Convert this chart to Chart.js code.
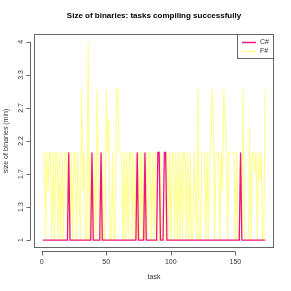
<!DOCTYPE html>
<html>
<head>
<meta charset="utf-8">
<script src="https://cdn.jsdelivr.net/npm/chart.js@4/dist/chart.umd.min.js"></script>
<style>
  html, body { margin: 0; padding: 0; background: #fff; }
</style>
</head>
<body>
<canvas id="binChart" width="291" height="291"></canvas>
<script>
// size of binaries per task, relative to the smallest one
const csharpSize = [
  1, 1, 1, 1, 1, 1, 1, 1, 1, 1,
  1, 1, 1, 1, 1, 1, 1, 1, 1, 1,
  2.08, 1, 1, 1, 1, 1, 1, 1, 1, 1,
  1, 1, 1, 1, 1, 1, 1, 1, 2.08, 1,
  1, 1, 1, 1, 1, 2.08, 1, 1, 1, 1,
  1, 1, 1, 1, 1, 1, 1, 1, 1, 1,
  1, 1, 1, 1, 1, 1, 1, 1, 1, 1,
  1, 1, 1, 2.08, 1, 1, 1, 1, 1, 2.08,
  1, 1, 1, 1, 1, 1, 1, 1, 1, 2.08,
  2.08, 1, 1, 1, 2.08, 2.08, 1, 1, 1, 1,
  1, 1, 1, 1, 1, 1, 1, 1, 1, 1,
  1, 1, 1, 1, 1, 1, 1, 1, 1, 1,
  1, 1, 1, 1, 1, 1, 1, 1, 1, 1,
  1, 1, 1, 1, 1, 1, 1, 1, 1, 1,
  1, 1, 1, 1, 1, 1, 1, 1, 1, 1,
  1, 1, 1, 2.08, 1, 1, 1, 1, 1, 1,
  1, 1, 1, 1, 1, 1, 1, 1, 1, 1,
  1, 1, 1
];
const fsharpSize = [
  2.08, 2.08, 1, 2.08, 1.56, 2.08, 2.08, 1, 2.08, 1,
  2.08, 2.08, 1, 2.08, 1, 2.08, 1, 2.08, 2.08, 1,
  2.08, 1, 2.08, 1, 2.08, 2.08, 1, 2.08, 1.56, 1,
  3.1, 1.56, 2.08, 1, 1, 4, 1, 2.08, 1, 1,
  2.08, 1, 3.1, 1.6, 1, 1, 2.08, 1, 1, 3.1,
  2.08, 2.6, 1, 1, 2.08, 1, 1, 3.1, 3.1, 2.08,
  2.08, 2.08, 1, 2.08, 1, 2.08, 1, 2.08, 2.08, 1,
  2.08, 1, 2.08, 1, 2.08, 1, 2.08, 1, 2.08, 1,
  2.08, 1, 2.08, 2.08, 1, 2.08, 1, 2.08, 1, 1,
  1, 2.08, 1, 1, 1, 1, 2.08, 1, 2.08, 1,
  2.08, 2.08, 1, 2.08, 1, 2.08, 1, 2.08, 1, 2.08,
  2.08, 1, 2.08, 1, 2.08, 1, 1, 2.08, 1.5, 1,
  3.1, 1, 1, 2.08, 2.08, 2.08, 1, 2.08, 1, 2.08,
  2.08, 3.1, 2.6, 1, 2.08, 2.08, 2.08, 1, 2.08, 1.56,
  3.1, 2.6, 2.08, 1, 2.08, 2.08, 2.08, 2.08, 2.08, 1,
  2.08, 1, 1, 2.08, 1, 3.1, 1, 1, 1, 1,
  2.45, 1, 2.08, 2.08, 1.8, 2.08, 1, 2.08, 1.7, 2.08,
  1, 1, 3.1
];
const yTickLabels = ['1', '1.3', '1.7', '2.2', '2.7', '3.3', '4'];
const xTickValues = [0, 50, 100, 150];
const seriesNames = ['C#', 'F#'];
const seriesColors = ['#f0147f', '#ffff99'];

// y axis is drawn on a square-root scale
const toPoints = arr => arr.map((v, i) => ({ x: i + 1, y: Math.sqrt(v) }));
const nTasks = fsharpSize.length;
const xPad = 0.04 * (nTasks - 1);

const FONT = '"Liberation Sans", Arial, sans-serif';
const GREY = '#666';

const rAxes = {
  id: 'rAxes',
  afterDraw(chart) {
    const ctx = chart.ctx;
    const a = chart.chartArea;
    const xs = chart.scales.x, ys = chart.scales.y;
    ctx.save();
    ctx.strokeStyle = GREY;
    ctx.lineWidth = 1;
    ctx.strokeRect(a.left + 0.5, a.top + 0.5, a.right - a.left - 1, a.bottom - a.top - 1);

    // x axis
    const xAxisY = a.bottom + 3.5;
    ctx.beginPath();
    ctx.moveTo(xs.getPixelForValue(xTickValues[0]), xAxisY);
    ctx.lineTo(xs.getPixelForValue(xTickValues[xTickValues.length - 1]), xAxisY);
    xTickValues.forEach(v => {
      const px = Math.round(xs.getPixelForValue(v)) + 0.5;
      ctx.moveTo(px, xAxisY);
      ctx.lineTo(px, xAxisY + 4);
    });
    ctx.stroke();
    ctx.fillStyle = '#333';
    ctx.font = '7px ' + FONT;
    ctx.textAlign = 'center';
    ctx.textBaseline = 'middle';
    xTickValues.forEach(v => ctx.fillText(String(v), xs.getPixelForValue(v), a.bottom + 14));
    ctx.fillText('task', (a.left + a.right) / 2, a.bottom + 29);

    // y axis
    const yAxisX = a.left - 3.5;
    const yVals = yTickLabels.map((_, k) => 1 + k / (yTickLabels.length - 1));
    ctx.beginPath();
    ctx.moveTo(yAxisX, ys.getPixelForValue(yVals[0]));
    ctx.lineTo(yAxisX, ys.getPixelForValue(yVals[yVals.length - 1]));
    yVals.forEach(v => {
      const py = Math.round(ys.getPixelForValue(v)) + 0.5;
      ctx.moveTo(yAxisX, py);
      ctx.lineTo(yAxisX - 4, py);
    });
    ctx.stroke();
    yVals.forEach((v, k) => {
      ctx.save();
      ctx.translate(a.left - 12.5, ys.getPixelForValue(v));
      ctx.rotate(-Math.PI / 2);
      ctx.fillText(yTickLabels[k], 0, 0);
      ctx.restore();
    });
    ctx.save();
    ctx.translate(6, (a.top + a.bottom) / 2);
    ctx.rotate(-Math.PI / 2);
    ctx.fillText('size of binaries (min)', 0, 0);
    ctx.restore();

    // title
    ctx.font = 'bold 8px ' + FONT;
    ctx.fillStyle = '#000';
    ctx.fillText('Size of binaries: tasks compiling successfully', (a.left + a.right) / 2, 16);

    // legend
    const lw = 37, lh = 25;
    const lx = a.right - lw, ly = a.top;
    ctx.fillStyle = '#fff';
    ctx.fillRect(lx, ly, lw, lh);
    ctx.strokeStyle = GREY;
    ctx.strokeRect(lx + 0.5, ly + 0.5, lw - 1, lh - 1);
    ctx.font = '7px ' + FONT;
    ctx.textAlign = 'left';
    seriesNames.forEach((name, i) => {
      const yy = ly + 8.5 + i * 9;
      ctx.strokeStyle = seriesColors[i];
      ctx.lineWidth = 1.5;
      ctx.beginPath();
      ctx.moveTo(lx + 5, yy);
      ctx.lineTo(lx + 19, yy);
      ctx.stroke();
      ctx.fillStyle = '#333';
      ctx.fillText(name, lx + 23, yy);
    });
    ctx.restore();
  }
};

const binChart = new Chart(document.getElementById('binChart').getContext('2d'), {
  type: 'line',
  data: {
    datasets: [
      { label: seriesNames[0], data: toPoints(csharpSize), borderColor: seriesColors[0], borderWidth: 1.3, pointRadius: 0, tension: 0 },
      { label: seriesNames[1], data: toPoints(fsharpSize), borderColor: seriesColors[1], borderWidth: 1.3, pointRadius: 0, tension: 0 }
    ]
  },
  options: {
    responsive: false,
    animation: false,
    events: [],
    layout: { padding: { left: 34, top: 34, right: 17, bottom: 43 } },
    plugins: { legend: { display: false }, tooltip: { enabled: false }, title: { display: false } },
    scales: {
      x: { type: 'linear', display: false, min: 1 - xPad, max: nTasks + xPad },
      y: { type: 'linear', display: false, min: 0.96, max: 2.04 }
    }
  },
  plugins: [rAxes]
});
</script>
</body>
</html>
